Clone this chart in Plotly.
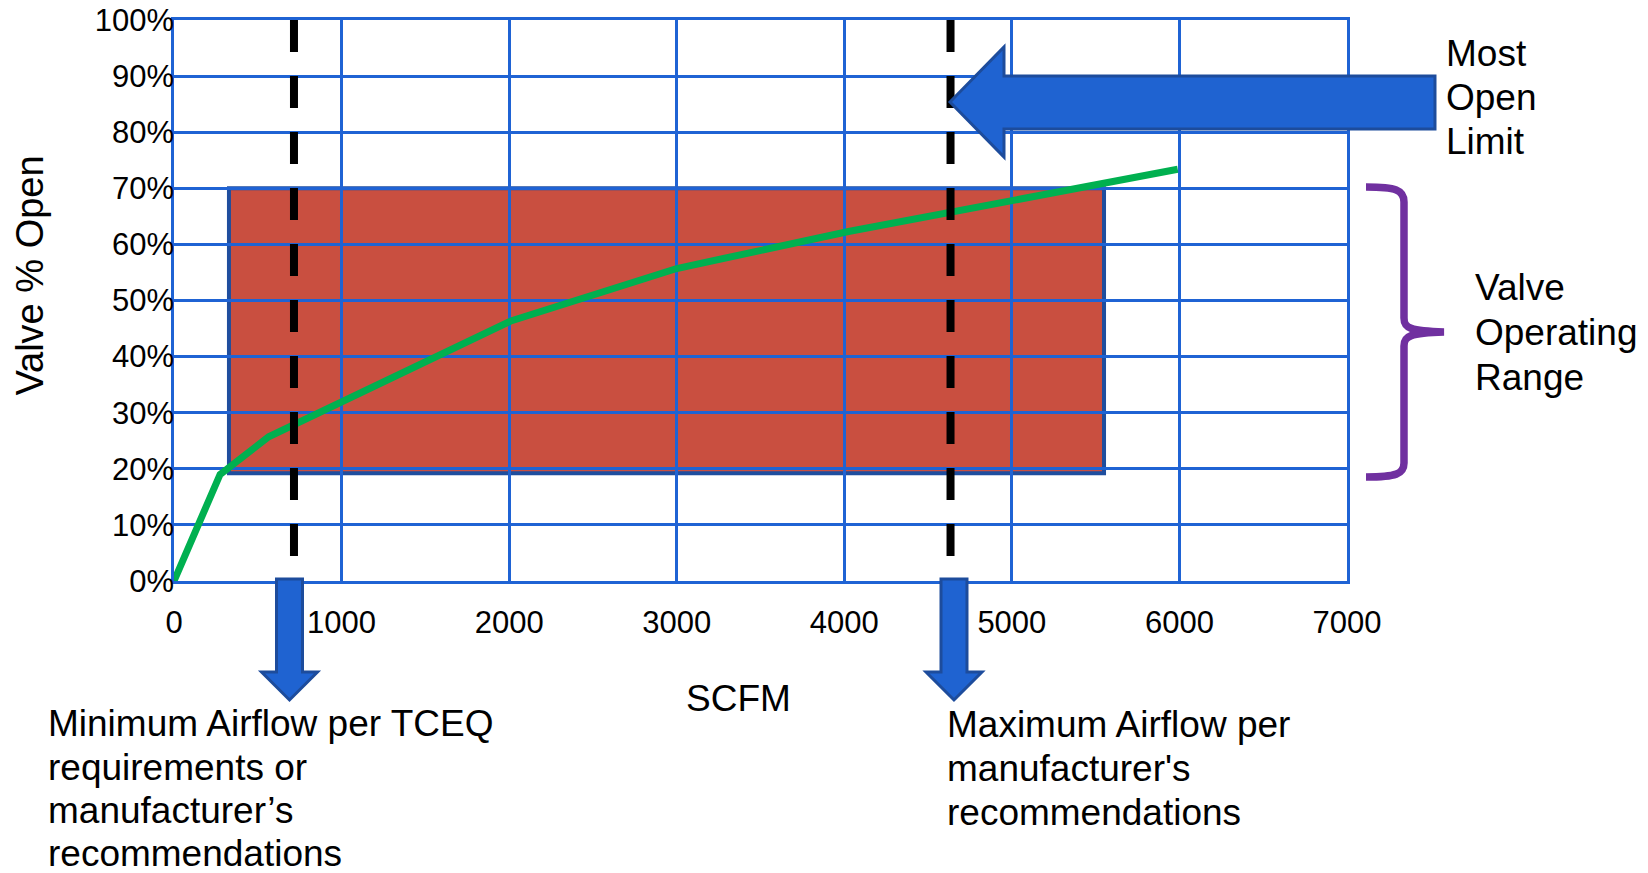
import plotly.graph_objects as go

# ---------------- data ----------------
scfm = [0, 275, 565, 2015, 3000, 4025, 5990]
valve_pct = [0, 19.0, 25.7, 46.4, 55.7, 62.3, 73.4]

x_ticks = [0, 1000, 2000, 3000, 4000, 5000, 6000, 7000]
x_tick_labels = [str(v) for v in x_ticks]
y_ticks = [0, 10, 20, 30, 40, 50, 60, 70, 80, 90, 100]
y_tick_labels = [f"{v}%" for v in y_ticks]

op_range_scfm = [328, 5550]      # valve operating range (x extent)
op_range_pct = [19.2, 70]        # valve operating range (y extent)
min_airflow = 716                # dashed line: minimum airflow
max_airflow = 4634               # dashed line: maximum airflow

min_text = ["Minimum Airflow per TCEQ", "requirements or", "manufacturer’s", "recommendations"]
max_text = ["Maximum Airflow per", "manufacturer's", "recommendations"]
most_text = ["Most", "Open", "Limit"]
range_text = ["Valve", "Operating", "Range"]

# ---------------- layout geometry ----------------
W, H = 1648, 873
ML, MR, MT, MB = 174, 301, 20, 292
PW = W - ML - MR
PH = H - MT - MB

def px(x):
    return (x - ML) / PW

def py(y):
    return (MT + PH - y) / PH

def poly(points):
    return "M " + " L ".join(f"{px(x):.5f},{py(y):.5f}" for x, y in points) + " Z"

FONT = "Liberation Sans, Arial, sans-serif"
GRID = "#1F63D4"
ARROW_FILL = "#1F63D1"
ARROW_LINE = "#1D4C9C"
PURPLE = "#7030A0"

fig = go.Figure()
fig.add_trace(go.Scatter(
    x=scfm, y=valve_pct, mode="lines",
    line=dict(color="#00B050", width=7),
    hoverinfo="skip", showlegend=False,
))

shapes = []
# operating range rectangle (below grid)
shapes.append(dict(type="rect", xref="x", yref="y",
                   x0=op_range_scfm[0], x1=op_range_scfm[1],
                   y0=op_range_pct[0], y1=op_range_pct[1],
                   fillcolor="#C94F40", line=dict(color="#1F4E9E", width=4),
                   layer="below"))
# dashed limit lines
for xv in (min_airflow, max_airflow):
    shapes.append(dict(type="line", xref="x", yref="paper",
                       x0=xv, x1=xv, y0=1, y1=0,
                       line=dict(color="black", width=8, dash="32px,24px"),
                       layer="above"))

# big left arrow (Most Open Limit)
shapes.append(dict(type="path", xref="paper", yref="paper",
                   path=poly([(950, 102), (1004, 47), (1004, 76), (1435, 76),
                              (1435, 129), (1004, 129), (1004, 157)]),
                   fillcolor=ARROW_FILL, line=dict(color=ARROW_LINE, width=3),
                   layer="above"))
# down arrows
for cx in (289.5, 954):
    shapes.append(dict(type="path", xref="paper", yref="paper",
                       path=poly([(cx - 13, 579), (cx + 13, 579), (cx + 13, 672),
                                  (cx + 28, 672), (cx, 700), (cx - 28, 672),
                                  (cx - 13, 672)]),
                       fillcolor=ARROW_FILL, line=dict(color=ARROW_LINE, width=3),
                       layer="above"))

# purple brace
def P(x, y):
    return f"{px(x):.5f},{py(y):.5f}"

brace = (f"M {P(1366,187)} C {P(1396,187)} {P(1404,190)} {P(1404,202)} "
         f"L {P(1404,318)} C {P(1404,328)} {P(1410,331)} {P(1444,332)} "
         f"C {P(1410,333)} {P(1404,336)} {P(1404,346)} "
         f"L {P(1404,463)} C {P(1404,474)} {P(1396,477)} {P(1366,477)}")
shapes.append(dict(type="path", xref="paper", yref="paper", path=brace,
                   line=dict(color=PURPLE, width=7.5), layer="above"))

annotations = []
ASC = 0.905

def text(t, x, baseline, size=37, xanchor="left"):
    top = baseline - ASC * size - 2
    annotations.append(dict(text=t, xref="paper", yref="paper",
                            x=px(x), y=py(top), xanchor=xanchor, yanchor="top",
                            showarrow=False, align="left",
                            font=dict(family=FONT, size=size, color="black")))

for line, b in zip(min_text, [736.7, 780.0, 823.4, 866.7]):
    text(line, 46, b)
for line, b in zip(max_text, [737.3, 781.0, 825.0]):
    text(line, 945, b)
for line, b in zip(most_text, [66.7, 110.5, 154.5]):
    text(line, 1444, b)
for line, b in zip(range_text, [300.0, 345.0, 390.0]):
    text(line, 1473, b)
text("SCFM", 738, 711.7, xanchor="center")

annotations.append(dict(text="Valve % Open", xref="paper", yref="paper",
                        x=px(29.5), y=py(276), xanchor="center", yanchor="middle",
                        showarrow=False, textangle=-90,
                        font=dict(family=FONT, size=38, color="black")))

fig.update_layout(
    width=W, height=H,
    margin=dict(l=ML, r=MR, t=MT, b=MB, pad=0, autoexpand=False),
    paper_bgcolor="white", plot_bgcolor="white",
    shapes=shapes, annotations=annotations,
    showlegend=False,
    font=dict(family=FONT, color="black"),
    xaxis=dict(range=[0, 7000], tickvals=x_ticks, ticktext=x_tick_labels,
               showgrid=True, gridcolor=GRID, gridwidth=2.5,
               showline=True, linecolor=GRID, linewidth=2.5, mirror=True,
               zeroline=False, ticks="", ticklabelstandoff=12, automargin=False,
               tickfont=dict(family=FONT, size=31, color="black"),
               fixedrange=True),
    yaxis=dict(range=[0, 100], tickvals=y_ticks, ticktext=y_tick_labels,
               showgrid=True, gridcolor=GRID, gridwidth=2.5,
               showline=True, linecolor=GRID, linewidth=2.5, mirror=True,
               zeroline=False, ticks="", ticklabelstandoff=-9, automargin=False,
               tickfont=dict(family=FONT, size=31, color="black"),
               fixedrange=True),
)

fig.write_html("out.html", config={"displayModeBar": False},
               post_script="document.body.style.margin='0';document.body.style.overflow='hidden';")
